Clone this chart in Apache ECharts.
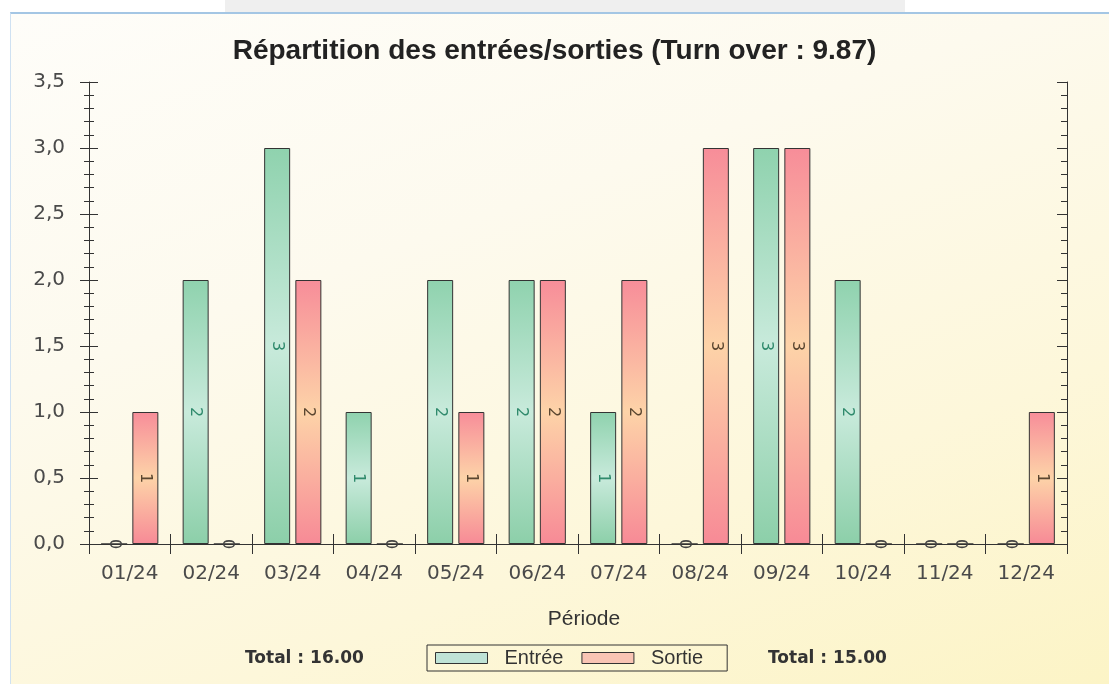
<!DOCTYPE html>
<html>
<head>
<meta charset="utf-8">
<script src="https://cdn.jsdelivr.net/npm/echarts@6/dist/echarts.min.js"></script>
<style>
  html, body { margin: 0; padding: 0; background: #ffffff; }
  #top-strip { position: absolute; left: 225px; top: 0; width: 680px; height: 12px; background: #efefef; }
  #frame { position: absolute; left: 10px; top: 12px; width: 1099px; height: 672px;
    border-top: 2px solid #a4c6e4; border-left: 1px solid #cfe1f2; box-sizing: border-box;
    background: linear-gradient(160deg, #fefdf9 0%, #fdfaee 35%, #fdf7da 70%, #fcf4c6 100%); }
  #chart { position: absolute; left: 0; top: 0; width: 1109px; height: 684px; }
</style>
</head>
<body>
<div id="top-strip"></div>
<div id="frame"></div>
<div id="chart"></div>
<script>
/* ── data ── */
const periods = ["01/24", "02/24", "03/24", "04/24", "05/24", "06/24", "07/24", "08/24", "09/24", "10/24", "11/24", "12/24"];
const entrees = [0, 2, 3, 1, 2, 2, 1, 0, 3, 2, 0, 0];
const sorties = [1, 0, 2, 0, 1, 2, 2, 3, 3, 0, 0, 1];
const yTicks = [0, 0.5, 1, 1.5, 2, 2.5, 3, 3.5];
const turnOver = "9.87";

/* ── styles ── */
const AXIS = "#333333";
const FONT = "DejaVu Sans, Verdana, sans-serif";
const SANS = "Liberation Sans, Arial, sans-serif";
const GREEN = new echarts.graphic.LinearGradient(0, 0, 0, 1, [
  { offset: 0, color: "#8fd2ae" },
  { offset: 0.5, color: "#c8eadb" },
  { offset: 1, color: "#8ccfa9" },
]);
const RED = new echarts.graphic.LinearGradient(0, 0, 0, 1, [
  { offset: 0, color: "#f78d99" },
  { offset: 0.5, color: "#fdd3a8" },
  { offset: 1, color: "#f78a96" },
]);

const sum = (a) => a.reduce((s, v) => s + v, 0);
const chart = echarts.init(document.getElementById("chart"));

const yMin = yTicks[0];
const yMax = yTicks[yTicks.length - 1];
const yStep = yTicks[1] - yTicks[0];
const tickLine = { color: AXIS, width: 1 };

function valueAxis(extra) {
  return Object.assign({
    type: "value", min: yMin, max: yMax, interval: yStep,
    splitLine: { show: false },
    axisLabel: { show: false },
    axisLine: { show: false },
  }, extra);
}

function categoryAxis(extra) {
  return Object.assign({
    type: "category", data: periods,
    axisLine: { show: false },
    axisLabel: { show: false },
    splitLine: { show: false },
  }, extra);
}

function barData(vals, zeroColor) {
  return vals.map((v) => (v === 0 ? { value: v, label: { color: zeroColor } } : v));
}

chart.setOption({
  backgroundColor: "transparent",
  animation: false,
  title: {
    text: `Répartition des entrées/sorties (Turn over : ${turnOver})`,
    left: "center", top: 32,
    textStyle: { fontFamily: SANS, fontWeight: "bold", fontSize: 28, color: "#222" },
  },
  grid: { left: 89, right: 42, top: 82, bottom: 140 },
  legend: {
    left: 427, top: 645,
    padding: [3, 24, 3, 8],
    itemGap: 18, itemWidth: 52, itemHeight: 11,
    borderColor: AXIS, borderWidth: 1,
    textStyle: { fontFamily: SANS, fontSize: 20, color: "#333", padding: [0, 0, 0, 12] },
    data: [
      { name: "Entrée", icon: "rect", itemStyle: { color: "#bfe3d6", borderColor: AXIS, borderWidth: 1 } },
      { name: "Sortie", icon: "rect", itemStyle: { color: "#f9c4b4", borderColor: AXIS, borderWidth: 1 } },
    ],
  },
  xAxis: [
    categoryAxis({
      position: "bottom",
      axisLine: { show: true, lineStyle: { color: AXIS } },
      axisTick: { show: true, interval: 0, length: 8, lineStyle: tickLine },
      axisLabel: { show: true, interval: 0, fontFamily: FONT, fontSize: 20, color: "#4a4a4a", margin: 20 },
      name: "Période", nameLocation: "middle", nameGap: 65,
      nameTextStyle: { fontFamily: SANS, fontSize: 21, color: "#333", padding: [0, 0, 0, 12] },
    }),
    categoryAxis({
      position: "bottom",
      axisTick: { show: true, inside: true, interval: 0, length: 10, lineStyle: tickLine },
    }),
    categoryAxis({
      position: "top",
      axisLine: { show: true, lineStyle: { color: AXIS } },
      axisTick: { show: true, inside: true, interval: 0, length: 10, lineStyle: tickLine },
    }),
  ],
  yAxis: [
    valueAxis({
      position: "left",
      axisLine: { show: true, lineStyle: { color: AXIS } },
      axisTick: { show: true, length: 9, lineStyle: tickLine },
      minorTick: { show: true, splitNumber: 5, length: 5, lineStyle: tickLine },
      axisLabel: {
        show: true, fontFamily: FONT, fontSize: 20, color: "#4a4a4a", margin: 24,
        formatter: (v) => v.toFixed(1).replace(".", ","),
      },
    }),
    valueAxis({
      position: "left",
      axisTick: { show: true, inside: true, length: 9, lineStyle: tickLine },
      minorTick: { show: true, splitNumber: 5, length: 5, lineStyle: tickLine },
    }),
    valueAxis({
      position: "right",
      axisLine: { show: true, lineStyle: { color: AXIS } },
      axisTick: { show: true, inside: true, length: 10, lineStyle: tickLine },
      minorTick: { show: true, splitNumber: 5, length: 6, lineStyle: tickLine },
    }),
  ],
  series: [
    {
      name: "Entrée", type: "bar", xAxisIndex: 0, yAxisIndex: 0,
      data: barData(entrees, "#444"),
      barWidth: 26, barGap: "20%",
      itemStyle: { color: GREEN, borderColor: AXIS, borderWidth: 1 },
      label: { show: true, position: "inside", rotate: -90, fontFamily: FONT, fontSize: 16, color: "#2f8a6c" },
    },
    {
      name: "Sortie", type: "bar", xAxisIndex: 0, yAxisIndex: 0,
      data: barData(sorties, "#444"),
      barWidth: 26, barGap: "20%",
      itemStyle: { color: RED, borderColor: AXIS, borderWidth: 1 },
      label: { show: true, position: "inside", rotate: -90, fontFamily: FONT, fontSize: 16, color: "#5a4630" },
    },
  ],
  graphic: [
    {
      type: "text", left: 245, top: 650,
      style: { text: `Total : ${sum(entrees).toFixed(2)}`, font: `bold 17px ${FONT}`, fill: "#333" },
    },
    {
      type: "text", left: 768, top: 650,
      style: { text: `Total : ${sum(sorties).toFixed(2)}`, font: `bold 17px ${FONT}`, fill: "#333" },
    },
  ],
});
</script>
</body>
</html>
